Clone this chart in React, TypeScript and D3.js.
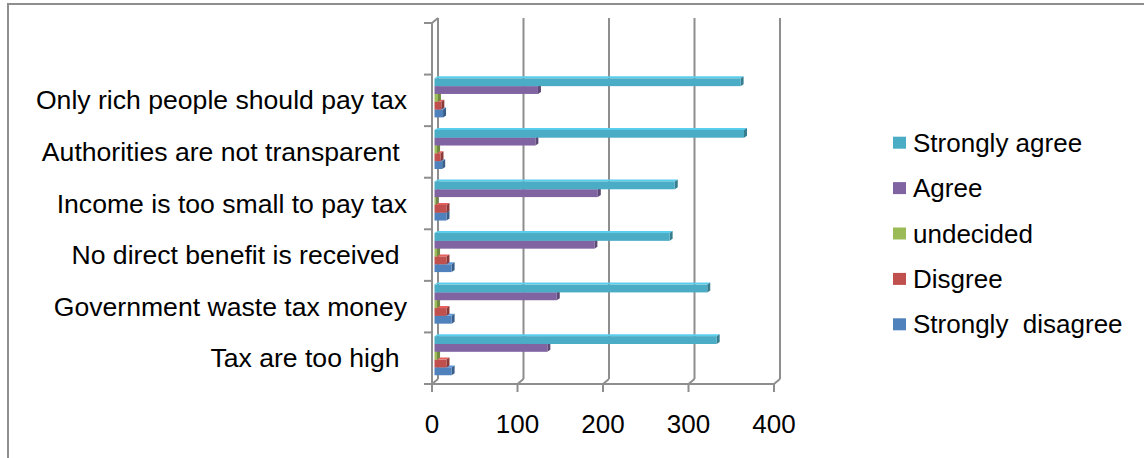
import React from "react";
import * as d3 from "d3";

const categories = [
  "Tax are too high ",
  "Government waste tax money",
  "No direct benefit is received ",
  "Income is too small to pay tax",
  "Authorities are not transparent ",
  "Only rich people should pay tax",
];
const seriesNames = ["Strongly agree", "Agree", "undecided", "Disgree", "Strongly  disagree"];
const stronglyAgree = [330, 319, 275, 281, 362, 358];
const agree = [132, 143, 187, 191, 118, 121];
const undecided = [3, 3, 3, 1, 3, 4];
const disagree = [14, 14, 14, 14, 7, 8];
const stronglyDisagree = [20, 20, 20, 14, 9, 10];
const seriesColors = ["#4BACC6", "#8064A2", "#9BBB59", "#C0504D", "#4F81BD"];
const xTicks = [0, 100, 200, 300, 400];

const seriesValues = [stronglyAgree, agree, undecided, disagree, stronglyDisagree];

const W = 1144;
const H = 458;
const FONT = "'Liberation Sans', Arial, sans-serif";
const GRID = "#8e8e8e";

export default function App() {
  const x = d3.scaleLinear().domain([0, 400]).range([432, 774]);
  const bandDomain = ["", ...categories.slice().reverse()];
  const y = d3.scaleBand<string>().domain(bandDomain).range([23, 384]);
  const inner = d3
    .scaleBand<string>()
    .domain(seriesNames)
    .range([0, y.bandwidth()])
    .paddingInner(0)
    .paddingOuter(0.8);

  // wall depth (front plane -> back plane)
  const wdx = 6, wdy = -5;
  // bar plane offset and bar depth
  const pdx = 2.5, pdy = -2.5;
  const bdx = 3, bdy = -2;

  const yTop = 23, yBot = 384;
  const tickBoundaries = [...bandDomain.map((c) => y(c) as number), yBot];

  const bars: JSX.Element[] = [];
  categories.forEach((cat, ci) => {
    const by = (y(cat) as number) + pdy;
    for (let si = seriesNames.length - 1; si >= 0; si--) {
      const v = seriesValues[si][ci];
      const x0 = x(0) + pdx;
      const x1 = x(v) + pdx;
      const y0 = by + (inner(seriesNames[si]) as number);
      const h = inner.bandwidth();
      const base = d3.color(seriesColors[si])!;
      const dark = base.darker(0.9).formatHex();
      const light = base.brighter(0.5).formatHex();
      bars.push(
        <g key={`${ci}-${si}`}>
          <polygon
            points={`${x0},${y0} ${x0 + bdx},${y0 + bdy} ${x1 + bdx},${y0 + bdy} ${x1},${y0}`}
            fill={light}
          />
          <polygon
            points={`${x1},${y0} ${x1 + bdx},${y0 + bdy} ${x1 + bdx},${y0 + h + bdy} ${x1},${y0 + h}`}
            fill={dark}
          />
          <rect x={x0} y={y0} width={Math.max(0.5, x1 - x0)} height={h} fill={seriesColors[si]} />
        </g>
      );
    }
  });

  return (
    <svg
      width={W}
      height={H}
      style={{ position: "absolute", left: 0, top: 0, background: "#fff" }}
      xmlSpace="preserve"
    >
      <rect x={0} y={0} width={W} height={H} fill="#fff" />
      <rect x={8} y={4} width={W + 50} height={H + 50} fill="none" stroke={GRID} strokeWidth={2} />

      {xTicks.map((t) => (
        <line key={`g${t}`} x1={x(t) + wdx} x2={x(t) + wdx} y1={yTop + wdy} y2={yBot + wdy} stroke={GRID} strokeWidth={2} />
      ))}
      {xTicks.map((t) => (
        <line key={`fd${t}`} x1={x(t)} x2={x(t) + wdx} y1={yBot} y2={yBot + wdy} stroke={GRID} strokeWidth={2} />
      ))}
      <line x1={x(0)} x2={x(0)} y1={yTop} y2={yBot} stroke={GRID} strokeWidth={2} />
      <line x1={x(0)} x2={x(0) + wdx} y1={yTop} y2={yTop + wdy} stroke={GRID} strokeWidth={2} />
      <line x1={x(0)} x2={x(400)} y1={yBot} y2={yBot} stroke={GRID} strokeWidth={2} />
      {xTicks.map((t) => (
        <line key={`xt${t}`} x1={x(t)} x2={x(t)} y1={yBot} y2={yBot + 8} stroke={GRID} strokeWidth={2} />
      ))}
      {tickBoundaries.map((yy, i) => (
        <line key={`yt${i}`} x1={x(0) - 8} x2={x(0)} y1={yy} y2={yy} stroke={GRID} strokeWidth={2} />
      ))}

      {bars}

      {categories.map((c) => (
        <text
          key={c}
          x={407}
          y={(y(c) as number) + y.bandwidth() / 2 + 9}
          textAnchor="end"
          fontFamily={FONT}
          fontSize={26.6}
          fill="#000"
          style={{ whiteSpace: "pre" }}
        >
          {c}
        </text>
      ))}

      {xTicks.map((t) => (
        <text key={`xl${t}`} x={x(t)} y={433} textAnchor="middle" fontFamily={FONT} fontSize={26} fill="#000">
          {t}
        </text>
      ))}

      {seriesNames.map((s, i) => {
        const cy = 142.7 + i * 45.4;
        return (
          <g key={s}>
            <rect x={893} y={cy - 6} width={13} height={12} fill={seriesColors[i]} />
            <text x={913} y={cy + 9} fontFamily={FONT} fontSize={26} fill="#000" style={{ whiteSpace: "pre" }}>
              {s}
            </text>
          </g>
        );
      })}
    </svg>
  );
}
